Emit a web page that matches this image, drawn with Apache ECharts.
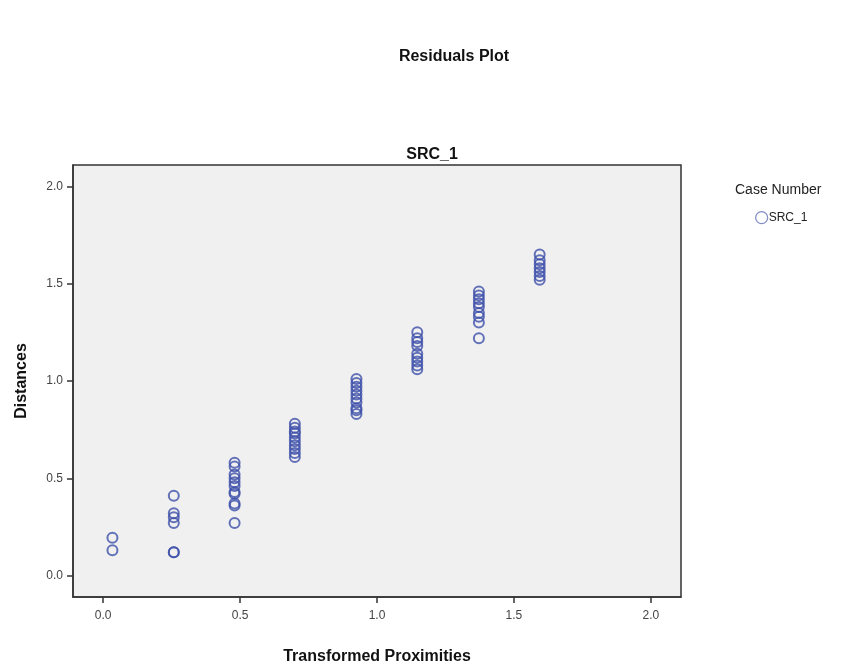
<!DOCTYPE html>
<html>
<head>
<meta charset="utf-8">
<script src="https://cdn.jsdelivr.net/npm/echarts@6/dist/echarts.min.js"></script>
<style>html,body{margin:0;padding:0;background:#fff;}#c{width:849px;height:670px;}</style>
</head>
<body>
<div id="c"></div>
<script>
// Transformed proximities (x position of each cluster)
const clusterX = [0.034, 0.258, 0.48, 0.70, 0.925, 1.147, 1.372, 1.594];
// Distances for each cluster
const dist1 = [0.195, 0.13];
const dist2 = [0.41, 0.32, 0.30, 0.27, 0.12, 0.12];
const dist3 = [0.58, 0.56, 0.52, 0.50, 0.48, 0.46, 0.43, 0.42, 0.37, 0.36, 0.27];
const dist4 = [0.78, 0.76, 0.74, 0.73, 0.71, 0.69, 0.67, 0.65, 0.63, 0.61];
const dist5 = [1.01, 0.99, 0.97, 0.95, 0.93, 0.91, 0.89, 0.86, 0.85, 0.83];
const dist6 = [1.25, 1.22, 1.20, 1.18, 1.14, 1.12, 1.10, 1.08, 1.06];
const dist7 = [1.46, 1.44, 1.42, 1.40, 1.38, 1.35, 1.33, 1.30, 1.22];
const dist8 = [1.65, 1.62, 1.60, 1.58, 1.56, 1.54, 1.52];
const tickValues = [0, 0.5, 1.0, 1.5, 2.0];

const clusters = [dist1, dist2, dist3, dist4, dist5, dist6, dist7, dist8];
const points = [];
clusters.forEach((arr, i) => arr.forEach(v => points.push([clusterX[i], v])));

const font = '"Liberation Sans", Arial, sans-serif';
const chart = echarts.init(document.getElementById('c'));
chart.setOption({
  animation: false,
  backgroundColor: '#ffffff',
  title: [
    { text: 'Residuals Plot', left: 449, top: 44, textAlign: 'center',
      textStyle: { fontFamily: font, fontSize: 16, fontWeight: 'bold', color: '#111' } },
    { text: 'SRC_1', left: 427, top: 142, textAlign: 'center',
      textStyle: { fontFamily: font, fontSize: 16, fontWeight: 'bold', color: '#111' } },
    { text: 'Case Number', left: 730, top: 178,
      textStyle: { fontFamily: font, fontSize: 14, fontWeight: 'normal', color: '#222' } }
  ],
  legend: {
    left: 750, top: 206, icon: 'circle', itemWidth: 12, itemHeight: 12, itemGap: 4,
    itemStyle: { color: 'transparent', borderColor: '#6470b8', borderWidth: 1.3 },
    textStyle: { fontFamily: font, fontSize: 12, color: '#222', padding: [0, 0, 0, -4] },
    data: ['SRC_1']
  },
  grid: { left: 73, right: 168, top: 165, bottom: 69, show: true,
    backgroundColor: '#f0f0f0', borderColor: '#333', borderWidth: 1.5 },
  xAxis: {
    type: 'value', min: -0.11, max: 2.11,
    name: 'Transformed Proximities', nameLocation: 'middle', nameGap: 52,
    nameTextStyle: { fontFamily: font, fontSize: 16, fontWeight: 'bold', color: '#111' },
    axisLine: { show: true, onZero: false, lineStyle: { color: '#333', width: 1.5 } },
    axisTick: { show: true, inside: false, length: 6, customValues: tickValues, lineStyle: { color: '#333', width: 1.5 } },
    axisLabel: { customValues: tickValues, margin: 13, fontFamily: font, fontSize: 12, color: '#444',
      formatter: v => v.toFixed(1) },
    splitLine: { show: false }
  },
  yAxis: {
    type: 'value', min: -0.11, max: 2.11,
    name: 'Distances', nameLocation: 'middle', nameGap: 43,
    nameTextStyle: { fontFamily: font, fontSize: 16, fontWeight: 'bold', color: '#111' },
    axisLine: { show: true, onZero: false, lineStyle: { color: '#333', width: 1.5 } },
    axisTick: { show: true, inside: false, length: 6, customValues: tickValues, lineStyle: { color: '#333', width: 1.5 } },
    axisLabel: { customValues: tickValues, margin: 10, fontFamily: font, fontSize: 12, color: '#444',
      formatter: v => v.toFixed(1) },
    splitLine: { show: false }
  },
  series: [{
    name: 'SRC_1', type: 'scatter', symbol: 'circle', symbolSize: 10,
    itemStyle: { color: 'transparent', borderColor: '#3f50aa', borderWidth: 2 },
    emphasis: { disabled: true },
    data: points
  }]
});
</script>
</body>
</html>
